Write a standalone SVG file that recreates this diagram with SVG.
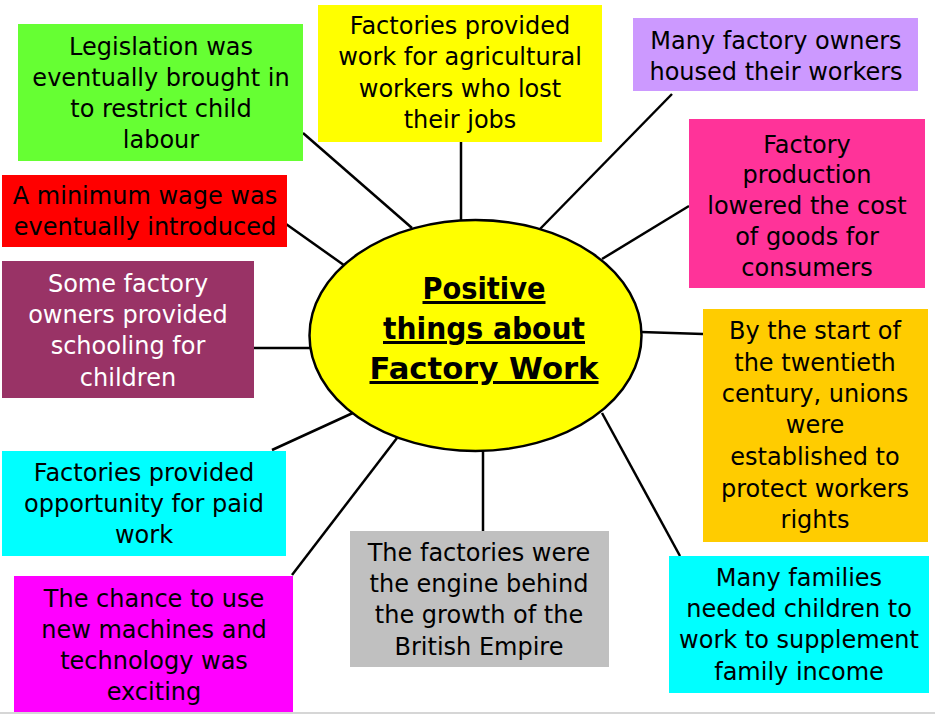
<svg xmlns="http://www.w3.org/2000/svg" width="935" height="714" viewBox="0 0 935 714">
<style>
.t{font-family:"DejaVu Sans","Liberation Sans",sans-serif;font-size:24px;fill:#000;text-anchor:middle}
.w{fill:#fff}
.c{stroke:#000;stroke-width:2.5;fill:none}
.title{font-family:"DejaVu Sans","Liberation Sans",sans-serif;font-weight:bold;font-size:30px;text-anchor:middle;text-decoration:underline;fill:#000}
</style>
<rect width="935" height="714" fill="#fff"/>
<g id="connectors">
<line class="c" x1="303" y1="133" x2="412" y2="228"/>
<line class="c" x1="286" y1="224" x2="348" y2="268"/>
<line class="c" x1="461" y1="142" x2="461" y2="221"/>
<line class="c" x1="672" y1="94" x2="540" y2="229"/>
<line class="c" x1="689" y1="206" x2="602" y2="259"/>
<line class="c" x1="254" y1="348" x2="311" y2="348"/>
<line class="c" x1="641" y1="332" x2="703" y2="334"/>
<line class="c" x1="680" y1="556" x2="602" y2="413"/>
<line class="c" x1="483" y1="451" x2="483" y2="531"/>
<line class="c" x1="272" y1="450" x2="355" y2="412"/>
<line class="c" x1="292" y1="575" x2="397" y2="438"/>
</g>
<line x1="0" y1="713" x2="935" y2="713" stroke="#c8c8c8" stroke-width="1.5"/>
<g id="center">
<ellipse cx="475.5" cy="335.5" rx="166" ry="115.5" fill="#ffff00" stroke="#000" stroke-width="2.5"/>
<text class="title" x="484" y="299" textLength="123" lengthAdjust="spacingAndGlyphs">Positive</text>
<text class="title" x="484" y="339" textLength="202" lengthAdjust="spacingAndGlyphs">things about</text>
<text class="title" x="484" y="379" textLength="229" lengthAdjust="spacingAndGlyphs">Factory Work</text>
</g>
<g id="n-legislation">
<rect x="18" y="24" width="285" height="137" fill="#66ff33"/>
<text class="t"><tspan x="161" y="55">Legislation was</tspan><tspan x="161" y="86">eventually brought in</tspan><tspan x="161" y="117">to restrict child</tspan><tspan x="161" y="148">labour</tspan></text>
</g>
<g id="n-wage">
<rect x="2" y="175" width="285" height="72" fill="#ff0000"/>
<text class="t"><tspan x="145" y="204">A minimum wage was</tspan><tspan x="145" y="235">eventually introduced</tspan></text>
</g>
<g id="n-agri">
<rect x="318" y="5" width="284" height="137" fill="#ffff00"/>
<text class="t"><tspan x="460" y="34">Factories provided</tspan><tspan x="460" y="65">work for agricultural</tspan><tspan x="460" y="97">workers who lost</tspan><tspan x="460" y="128">their jobs</tspan></text>
</g>
<g id="n-housed">
<rect x="633" y="18" width="285" height="73" fill="#cc99ff"/>
<text class="t"><tspan x="776" y="49">Many factory owners</tspan><tspan x="776" y="80">housed their workers</tspan></text>
</g>
<g id="n-cost">
<rect x="689" y="119" width="236" height="169" fill="#ff3399"/>
<text class="t"><tspan x="807" y="153">Factory</tspan><tspan x="807" y="183">production</tspan><tspan x="807" y="214">lowered the cost</tspan><tspan x="807" y="245">of goods for</tspan><tspan x="807" y="276">consumers</tspan></text>
</g>
<g id="n-schooling">
<rect x="2" y="261" width="252" height="137" fill="#993366"/>
<text class="t w"><tspan x="128" y="292">Some factory</tspan><tspan x="128" y="323">owners provided</tspan><tspan x="128" y="354">schooling for</tspan><tspan x="128" y="386">children</tspan></text>
</g>
<g id="n-unions">
<rect x="703" y="309" width="225" height="233" fill="#ffcc00"/>
<text class="t"><tspan x="815" y="339">By the start of</tspan><tspan x="815" y="371">the twentieth</tspan><tspan x="815" y="402">century, unions</tspan><tspan x="815" y="433">were</tspan><tspan x="815" y="465">established to</tspan><tspan x="815" y="497">protect workers</tspan><tspan x="815" y="528">rights</tspan></text>
</g>
<g id="n-paid">
<rect x="2" y="451" width="284" height="105" fill="#00ffff"/>
<text class="t"><tspan x="144" y="481">Factories provided</tspan><tspan x="144" y="512">opportunity for paid</tspan><tspan x="144" y="543">work</tspan></text>
</g>
<g id="n-machines">
<rect x="14" y="576" width="279" height="136" fill="#ff00ff"/>
<text class="t"><tspan x="154" y="607">The chance to use</tspan><tspan x="154" y="638">new machines and</tspan><tspan x="154" y="669">technology was</tspan><tspan x="154" y="700">exciting</tspan></text>
</g>
<g id="n-empire">
<rect x="350" y="531" width="259" height="136" fill="#c0c0c0"/>
<text class="t"><tspan x="479" y="561">The factories were</tspan><tspan x="479" y="592">the engine behind</tspan><tspan x="479" y="623">the growth of the</tspan><tspan x="479" y="655">British Empire</tspan></text>
</g>
<g id="n-families">
<rect x="669" y="556" width="260" height="137" fill="#00ffff"/>
<text class="t"><tspan x="799" y="586">Many families</tspan><tspan x="799" y="617">needed children to</tspan><tspan x="799" y="648">work to supplement</tspan><tspan x="799" y="680">family income</tspan></text>
</g>
</svg>
